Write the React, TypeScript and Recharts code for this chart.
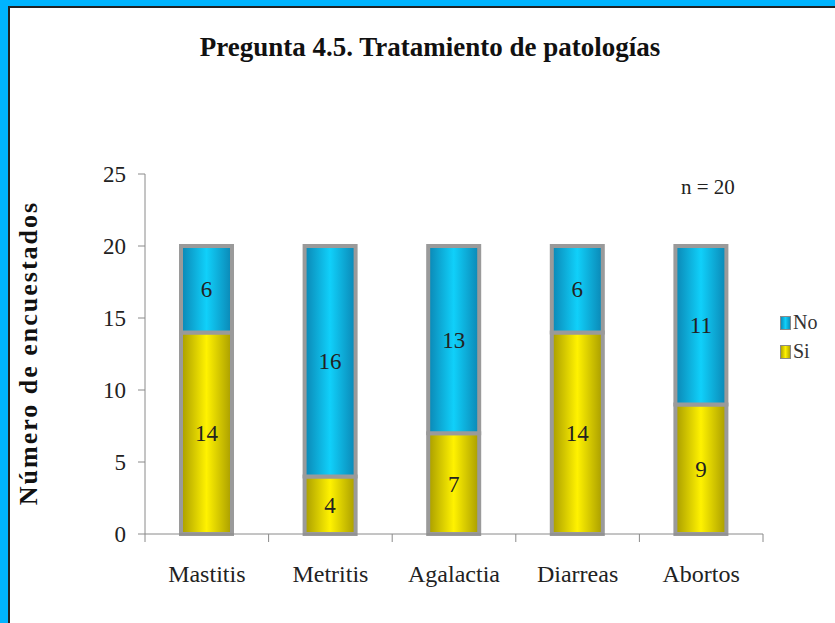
import React from 'react';
import { BarChart, Bar, XAxis, YAxis, LabelList, Legend } from 'recharts';

const categories = ['Mastitis', 'Metritis', 'Agalactia', 'Diarreas', 'Abortos'];
const siValues = [14, 4, 7, 14, 9];
const noValues = [6, 16, 13, 6, 11];
const yTicks = [0, 5, 10, 15, 20, 25];

const data = categories.map((name, i) => ({ name, Si: siValues[i], No: noValues[i] }));

const SERIF = "'Liberation Serif', 'Times New Roman', serif";
const AXIS = '#8a8a8a';

// category label plus Excel-style tick marks between the categories
const CatTick = (props: any) => {
    const { x, y, payload, index, visibleTicksCount } = props;
    const half = payload.offset || 0;
    const last = index === visibleTicksCount - 1;
    return (
        <g>
            <line x1={x - half} y1={y} x2={x - half} y2={y + 8} stroke={AXIS} />
            {last && <line x1={x + half} y1={y} x2={x + half} y2={y + 8} stroke={AXIS} />}
            <text x={x} y={y + 31} dy="0.71em" textAnchor="middle" fontFamily={SERIF} fontSize={24} fill="#222">
                {payload.value}
            </text>
        </g>
    );
};

// legend shows No above Si, like the original
const LegendBox = (props: any) => {
    const items = [...(props.payload || [])].sort((a: any, b: any) => (a.value === 'No' ? -1 : b.value === 'No' ? 1 : 0));
    return (
        <div style={{ fontFamily: SERIF, fontSize: 20, color: '#333' }}>
            {items.map((p: any) => (
                <div key={p.value} style={{ display: 'flex', alignItems: 'center', height: 29 }}>
                    <svg width={11} height={14} style={{ marginRight: 2 }}>
                        <rect x={0.5} y={0.5} width={10} height={13} fill={p.value === 'No' ? 'url(#gNo)' : 'url(#gSi)'} stroke={AXIS} strokeWidth={1} />
                    </svg>
                    <span>{p.value}</span>
                </div>
            ))}
        </div>
    );
};

const App: React.FC = () => {
    return (
        <div style={{ position: 'absolute', left: 0, top: 0, width: 835, height: 623, background: '#fff', overflow: 'hidden' }}>
            <div style={{ position: 'absolute', left: 0, top: 0, width: 8, height: 623, background: '#00b4fe' }} />
            <div style={{ position: 'absolute', left: 0, top: 0, width: 835, height: 6, background: '#00b4fe' }} />
            <div style={{ position: 'absolute', left: 8, top: 6, width: 2, height: 617, background: '#222' }} />
            <div style={{ position: 'absolute', left: 8, top: 6, width: 827, height: 2, background: '#222' }} />
            <div style={{ position: 'absolute', left: 10, top: 32, width: 840, textAlign: 'center', fontFamily: SERIF, fontWeight: 'bold', fontSize: 27, color: '#111', whiteSpace: 'nowrap' }}>
                Pregunta 4.5. Tratamiento de patologías
            </div>
            <div style={{ position: 'absolute', left: 681, top: 175, fontFamily: SERIF, fontSize: 21, color: '#222' }}>n = 20</div>
            <div style={{ position: 'absolute', left: 29, top: 353, width: 400, marginLeft: -200, marginTop: -15, textAlign: 'center', transform: 'rotate(-90deg)', fontFamily: SERIF, fontWeight: 'bold', fontSize: 26, letterSpacing: 2, color: '#111', whiteSpace: 'nowrap' }}>
                Número de encuestados
            </div>
            <div style={{ position: 'absolute', left: 0, top: 0 }}>
                <BarChart width={835} height={623} data={data} margin={{ top: 174, right: 72, left: 0, bottom: 0 }}>
                    <defs>
                        <linearGradient id="gNo" x1="0" y1="0" x2="1" y2="0">
                            <stop offset="0%" stopColor="#0b86b4" />
                            <stop offset="50%" stopColor="#10d0fa" />
                            <stop offset="100%" stopColor="#0b86b4" />
                        </linearGradient>
                        <linearGradient id="gSi" x1="0" y1="0" x2="1" y2="0">
                            <stop offset="0%" stopColor="#a89c00" />
                            <stop offset="50%" stopColor="#fff200" />
                            <stop offset="100%" stopColor="#a89c00" />
                        </linearGradient>
                    </defs>
                    <XAxis
                        dataKey="name"
                        height={89}
                        stroke={AXIS}
                        tickLine={false}
                        tickSize={0}
                        tickMargin={0}
                        interval={0}
                        tick={<CatTick />}
                    />
                    <YAxis
                        width={145}
                        domain={[0, 25]}
                        ticks={yTicks}
                        tickSize={7}
                        tickMargin={12}
                        stroke={AXIS}
                        tick={{ fontFamily: SERIF, fontSize: 23, fill: '#222' }}
                    />
                    <Legend
                        layout="horizontal"
                        verticalAlign="middle"
                        content={<LegendBox />}
                        wrapperStyle={{ position: 'absolute', left: 780, top: 308, width: 55 }}
                    />
                    <Bar dataKey="Si" stackId="a" barSize={51} fill="url(#gSi)" stroke="#9a9a9a" strokeWidth={4} isAnimationActive={false}>
                        <LabelList dataKey="Si" position="center" style={{ fontFamily: SERIF, fontSize: 23, fill: '#222' }} />
                    </Bar>
                    <Bar dataKey="No" stackId="a" barSize={51} fill="url(#gNo)" stroke="#9a9a9a" strokeWidth={4} isAnimationActive={false}>
                        <LabelList dataKey="No" position="center" style={{ fontFamily: SERIF, fontSize: 23, fill: '#222' }} />
                    </Bar>
                </BarChart>
            </div>
        </div>
    );
};

export default App;
